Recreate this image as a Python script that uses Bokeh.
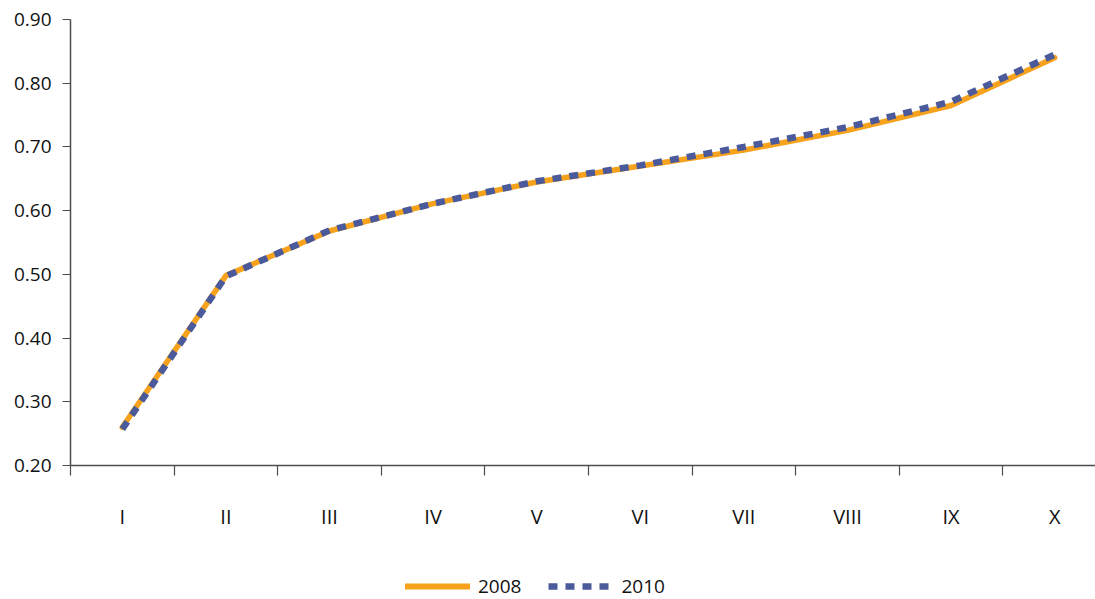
from bokeh.plotting import figure
from bokeh.layouts import column
from bokeh.models import (Legend, LegendItem, FixedTicker, Range1d, LinearAxis,
                          CustomJSTickFormatter)
from bokeh.embed import file_html
from bokeh.resources import INLINE

categories = ["I", "II", "III", "IV", "V", "VI", "VII", "VIII", "IX", "X"]
series_2008 = [0.260, 0.498, 0.568, 0.611, 0.645, 0.670, 0.695, 0.726, 0.765, 0.840]
series_2010 = [0.257, 0.497, 0.569, 0.611, 0.646, 0.671, 0.700, 0.731, 0.771, 0.845]
y_ticks = [0.2, 0.3, 0.4, 0.5, 0.6, 0.7, 0.8, 0.9]
legend_labels = ["2008", "2010"]

FONT = "Open Sans"
AXIS_COLOR = "#4d4d4d"
ORANGE = "#F6A21D"
BLUE = "#4A5A9A"
TEXT = "#111111"

xs = [i + 0.5 for i in range(len(categories))]

p = figure(width=1095, height=548, output_backend="svg", toolbar_location=None,
           x_range=Range1d(0, 9.894), y_range=Range1d(0.2, 0.9),
           x_axis_location=None, y_axis_location=None,
           min_border_left=70, min_border_top=19, min_border_right=0,
           min_border_bottom=83)
p.outline_line_color = None
p.grid.visible = False

p.line(xs, series_2008, line_color=ORANGE, line_width=5.5,
       line_cap="round", line_join="round")
p.line(xs, series_2010, line_color=BLUE, line_width=6.5,
       line_dash="9 8", line_cap="butt")

yaxis = LinearAxis(ticker=FixedTicker(ticks=y_ticks),
                   formatter=CustomJSTickFormatter(code="return tick.toFixed(2);"),
                   major_tick_out=8, major_tick_in=0,
                   minor_tick_line_color=None, major_label_standoff=11,
                   major_label_text_font=FONT, major_label_text_font_size="19px",
                   major_label_text_color=TEXT,
                   axis_line_color=AXIS_COLOR, axis_line_width=1.5,
                   major_tick_line_color=AXIS_COLOR, major_tick_line_width=1.2)
p.add_layout(yaxis, "left")

main_x = LinearAxis(ticker=FixedTicker(ticks=list(range(len(categories)))),
                    formatter=CustomJSTickFormatter(code="return '';"),
                    major_label_standoff=0,
                    major_tick_out=10, major_tick_in=0,
                    minor_tick_line_color=None,
                    axis_line_color=AXIS_COLOR, axis_line_width=1.5,
                    major_tick_line_color=AXIS_COLOR, major_tick_line_width=1.2)
p.add_layout(main_x, "below")

lab_axis = LinearAxis(ticker=FixedTicker(ticks=xs),
                      major_label_overrides={x: c for x, c in zip(xs, categories)},
                      axis_line_color=None, major_tick_line_color=None,
                      minor_tick_line_color=None,
                      major_label_standoff=21,
                      major_label_text_font=FONT,
                      major_label_text_font_size="20px",
                      major_label_text_color=TEXT)
p.add_layout(lab_axis, "below")

# legend strip below the chart (glyph data lies outside the visible range)
lf = figure(width=1095, height=51, output_backend="svg", toolbar_location=None,
            x_range=Range1d(0, 1), y_range=Range1d(0, 1),
            x_axis_location=None, y_axis_location=None,
            min_border_left=0, min_border_right=0, min_border_top=0,
            min_border_bottom=0)
lf.outline_line_color = None
lf.grid.visible = False
g1 = lf.line([-5, -4], [-5, -4], line_color=ORANGE, line_width=6, line_cap="round")
g2 = lf.line([-5, -4], [-5, -4], line_color=BLUE, line_width=6.5, line_dash="9 8",
             line_cap="butt")
legend = Legend(items=[LegendItem(label=legend_labels[0], renderers=[g1]),
                       LegendItem(label=legend_labels[1], renderers=[g2])],
                orientation="horizontal", location=(335, 0),
                glyph_width=65, glyph_height=20, label_standoff=8, spacing=27,
                padding=0, margin=0, border_line_color=None,
                background_fill_alpha=0,
                label_text_font=FONT, label_text_font_size="19px",
                label_text_color=TEXT)
lf.add_layout(legend, "center")

layout = column(p, lf, spacing=0)
open("out.html", "w").write(file_html(layout, INLINE))
